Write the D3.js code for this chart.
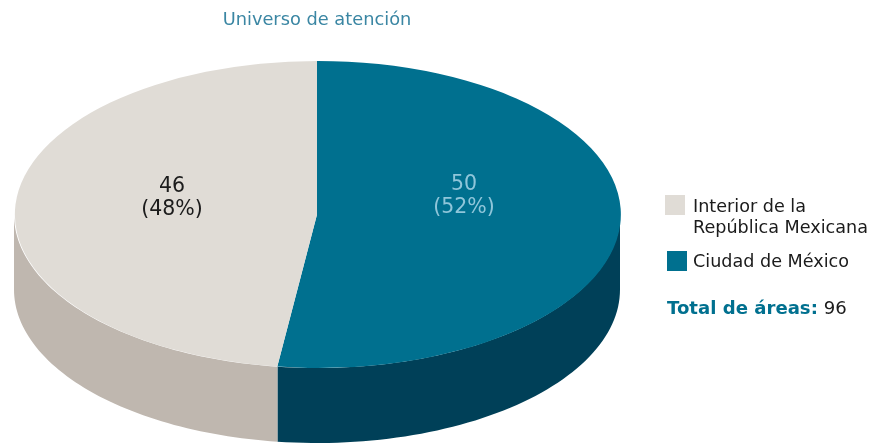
<!DOCTYPE html>
<html>
<head>
<meta charset="utf-8">
<script src="https://cdnjs.cloudflare.com/ajax/libs/d3/7.8.5/d3.min.js"></script>
<style>
  body { margin: 0; background: #fff; }
  svg { display: block; }
  text { font-family: "DejaVu Sans", sans-serif; }
</style>
</head>
<body>
<div id="chart"></div>
<script>
// values
var categories = ["Ciudad de México", "Interior de la República Mexicana"];
var values = [50, 46];
var percents = ["(52%)", "(48%)"];
var total = 96;

var topColors = ["#00708f", "#e0dcd6"];
var sideColors = ["#004158", "#bfb7af"];
var labelColors = ["#8fc6da", "#1a1a1a"];

var width = 877, height = 444;
var cx = 317, cy = 214.5, rx = 303, ry = 153.5, depth = 75;

var root = d3.select("#chart").append("svg")
  .attr("width", width)
  .attr("height", height);

// the reference is a soft scan, so everything gets a slight blur
root.append("defs").append("filter")
  .attr("id", "soft")
  .append("feGaussianBlur").attr("stdDeviation", 0.5);

var svg = root.append("g").attr("filter", "url(#soft)");

var pie = d3.pie().sort(null).value(function(d) { return d; });
var slices = pie(values);

// radius scales squash the circle into the tilted ellipse
var xScale = d3.scaleLinear().domain([-1, 1]).range([cx - rx, cx + rx]);
var yScale = d3.scaleLinear().domain([-1, 1]).range([cy - ry, cy + ry]);

function rimPoints(a0, a1) {
  return d3.range(0, 61).map(function(i) { return a0 + (a1 - a0) * i / 60; });
}

// only the front half of the rim shows (90deg to 270deg, clockwise from the top)
var side = d3.area()
  .x(function(a) { return xScale(Math.sin(a)); })
  .y0(function(a) { return yScale(-Math.cos(a)); })
  .y1(function(a) { return yScale(-Math.cos(a)) + depth; });

slices.forEach(function(s, i) {
  var a0 = Math.max(s.startAngle, Math.PI / 2);
  var a1 = Math.min(s.endAngle, Math.PI * 1.5);
  if (a1 <= a0) return;
  svg.append("path")
    .attr("d", side(rimPoints(a0, a1)))
    .attr("fill", sideColors[i]);
});

// top face
var arc = d3.arc().innerRadius(0).outerRadius(1);
svg.append("g")
  .attr("transform", "translate(" + cx + "," + cy + ") scale(" + rx + "," + ry + ")")
  .selectAll("path")
  .data(slices)
  .enter().append("path")
    .attr("d", arc)
    .attr("fill", function(d, i) { return topColors[i]; });

// slice labels
var labelX = [464, 172];
var labelY = [190, 192];
slices.forEach(function(s, i) {
  svg.append("text")
    .attr("x", labelX[i]).attr("y", labelY[i])
    .attr("text-anchor", "middle")
    .attr("font-size", 20.5)
    .attr("fill", labelColors[i])
    .text(s.value);
  svg.append("text")
    .attr("x", labelX[i]).attr("y", labelY[i] + 23)
    .attr("text-anchor", "middle")
    .attr("font-size", 20.5)
    .attr("fill", labelColors[i])
    .text(percents[i]);
});

// title
svg.append("text")
  .attr("x", 317).attr("y", 25)
  .attr("text-anchor", "middle")
  .attr("font-size", 17.8)
  .attr("fill", "#3a86a3")
  .text("Universo de atención");

// legend
svg.append("rect").attr("x", 665).attr("y", 195).attr("width", 20).attr("height", 20).attr("fill", topColors[1]);
svg.append("rect").attr("x", 667).attr("y", 251).attr("width", 20).attr("height", 20).attr("fill", topColors[0]);

var legend1 = svg.append("text").attr("font-size", 17.6).attr("fill", "#1a1a1a");
legend1.append("tspan").attr("x", 693).attr("y", 212).text("Interior de la");
legend1.append("tspan").attr("x", 693).attr("y", 233).text("República Mexicana");
svg.append("text").attr("x", 693).attr("y", 267).attr("font-size", 17.6).attr("fill", "#1a1a1a").text(categories[0]);

var totalText = svg.append("text").attr("x", 667).attr("y", 314).attr("font-size", 18.1);
totalText.append("tspan").attr("font-weight", "bold").attr("fill", "#00708f").text("Total de áreas:");
totalText.append("tspan").attr("fill", "#1a1a1a").text(" " + total);
</script>
</body>
</html>
